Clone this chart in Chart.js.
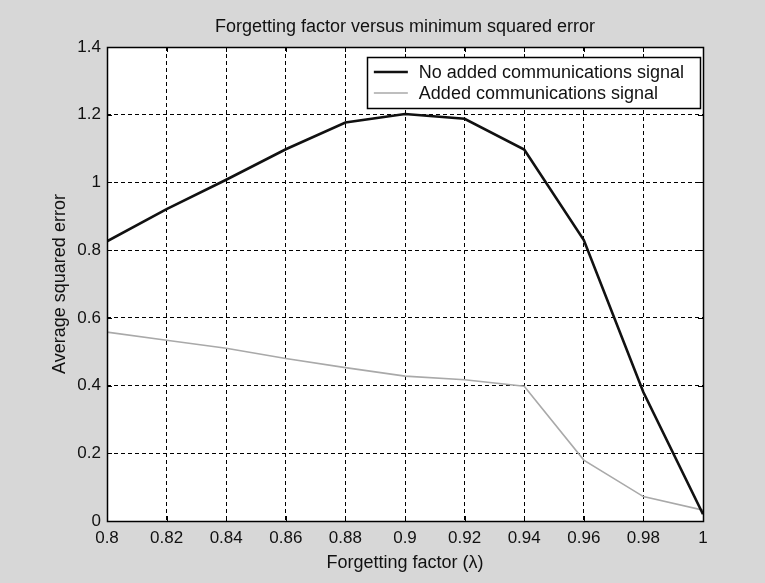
<!DOCTYPE html>
<html>
<head>
<meta charset="utf-8">
<script src="https://cdn.jsdelivr.net/npm/chart.js@4.4.0/dist/chart.umd.min.js"></script>
<style>
  html, body { margin: 0; padding: 0; background: #d7d7d7; }
  #wrap { width: 765px; height: 583px; position: relative; }
</style>
</head>
<body>
<div id="wrap"><canvas id="c" width="765" height="583"></canvas></div>
<script>
// ---- Data ----
const lambdaValues = [0.80, 0.82, 0.84, 0.86, 0.88, 0.90, 0.92, 0.94, 0.96, 0.98, 1.00];
const noAddedSignal = [0.826, 0.921, 1.008, 1.098, 1.177, 1.202, 1.188, 1.097, 0.830, 0.380, 0.020];
const addedSignal   = [0.558, 0.534, 0.510, 0.480, 0.453, 0.428, 0.417, 0.398, 0.180, 0.072, 0.032];
const seriesLabels = ['No added communications signal', 'Added communications signal'];
const xTickValues = [0.8, 0.82, 0.84, 0.86, 0.88, 0.9, 0.92, 0.94, 0.96, 0.98, 1];
const xTickLabels = ['0.8', '0.82', '0.84', '0.86', '0.88', '0.9', '0.92', '0.94', '0.96', '0.98', '1'];
const yTickValues = [0, 0.2, 0.4, 0.6, 0.8, 1, 1.2, 1.4];
const yTickLabels = ['0', '0.2', '0.4', '0.6', '0.8', '1', '1.2', '1.4'];
const titleText = 'Forgetting factor versus minimum squared error';
const xTitle = 'Forgetting factor (\u03bb)';
const yTitle = 'Average squared error';

const FONT = '"Liberation Sans", Arial, Helvetica, sans-serif';
const FS = 17;   // tick labels
const FT = 18;   // titles and legend

function pts(ys) { return lambdaValues.map((x, i) => ({ x: x, y: ys[i] })); }

const bgPlugin = {
  id: 'bg',
  beforeDraw(chart) {
    const { ctx, chartArea: a } = chart;
    ctx.save();
    ctx.fillStyle = '#d7d7d7';
    ctx.fillRect(0, 0, chart.width, chart.height);
    ctx.fillStyle = '#ffffff';
    ctx.fillRect(a.left, a.top, a.right - a.left, a.bottom - a.top);
    ctx.restore();
  }
};

const framePlugin = {
  id: 'frame',
  afterDatasetsDraw(chart) {
    const { ctx, chartArea: a, scales } = chart;
    ctx.save();
    ctx.strokeStyle = '#000';
    ctx.lineWidth = 1;
    ctx.setLineDash([]);
    const L = 5;
    ctx.beginPath();
    scales.x.ticks.forEach(t => {
      const px = Math.round(scales.x.getPixelForValue(t.value)) + 0.5;
      ctx.moveTo(px, a.bottom); ctx.lineTo(px, a.bottom - L);
      ctx.moveTo(px, a.top); ctx.lineTo(px, a.top + L);
    });
    scales.y.ticks.forEach(t => {
      const py = Math.round(scales.y.getPixelForValue(t.value)) + 0.5;
      ctx.moveTo(a.left, py); ctx.lineTo(a.left + L, py);
      ctx.moveTo(a.right, py); ctx.lineTo(a.right - L, py);
    });
    ctx.stroke();
    ctx.lineWidth = 1.5;
    ctx.strokeRect(Math.round(a.left) + 0.5, Math.round(a.top) + 0.5,
                   Math.round(a.right - a.left), Math.round(a.bottom - a.top));
    ctx.restore();
  },
  afterDraw(chart) {
    // legend drawn inside the plot area (upper right)
    const { ctx, chartArea: a } = chart;
    const ds = chart.data.datasets;
    ctx.save();
    ctx.font = FT + 'px ' + FONT;
    const tw = Math.max(...ds.map(d => ctx.measureText(d.label).width));
    const padL = 7, sample = 34, gap = 11, padR = 16;
    const w = padL + sample + gap + tw + padR;
    const h = 51;
    const right = a.right - 3;
    const left = right - w;
    const top = a.top + 10;
    ctx.fillStyle = '#fff';
    ctx.fillRect(left, top, w, h);
    ctx.strokeStyle = '#000';
    ctx.lineWidth = 1.5;
    ctx.strokeRect(Math.round(left) + 0.5, top + 0.5, Math.round(w), h);
    ds.forEach((d, i) => {
      const cy = top + 15 + i * 21;
      ctx.strokeStyle = d.borderColor;
      ctx.lineWidth = d.borderWidth;
      ctx.beginPath();
      ctx.moveTo(left + padL, cy);
      ctx.lineTo(left + padL + sample, cy);
      ctx.stroke();
      ctx.fillStyle = '#111';
      ctx.textBaseline = 'middle';
      ctx.textAlign = 'left';
      ctx.fillText(d.label, left + padL + sample + gap, cy + 1);
    });
    ctx.restore();
  }
};

new Chart(document.getElementById('c'), {
  type: 'scatter',
  data: {
    datasets: [
      { label: seriesLabels[0], data: pts(noAddedSignal), showLine: true, borderColor: '#111111',
        borderWidth: 2.6, pointRadius: 0, tension: 0, fill: false },
      { label: seriesLabels[1], data: pts(addedSignal), showLine: true, borderColor: '#a9a9a9',
        borderWidth: 1.6, pointRadius: 0, tension: 0, fill: false }
    ]
  },
  options: {
    responsive: false,
    animation: false,
    devicePixelRatio: 1,
    layout: { padding: { left: 0, right: 62, top: 0, bottom: 0 } },
    plugins: {
      legend: { display: false },
      tooltip: { enabled: false },
      title: {
        display: true, text: titleText, fullSize: false,
        color: '#111', font: { family: FONT, size: FT, weight: 'normal' },
        padding: { top: 16, bottom: 9.4 }
      }
    },
    scales: {
      x: {
        type: 'linear', min: 0.8, max: 1,
        afterBuildTicks: s => { s.ticks = xTickValues.map(v => ({ value: v })); },
        afterFit: s => { s.height = 62; },
        ticks: {
          color: '#111', font: { family: FONT, size: FS }, padding: 7, maxRotation: 0, autoSkip: false,
          callback: (v) => { const i = xTickValues.findIndex(t => Math.abs(t - v) < 1e-9); return i >= 0 ? xTickLabels[i] : ''; }
        },
        grid: { color: '#000', lineWidth: 1, drawTicks: false },
        border: { display: false, dash: [4, 3] },
        title: { display: true, text: xTitle, color: '#111', font: { family: FONT, size: FT }, padding: { top: 0, bottom: 9 } }
      },
      y: {
        type: 'linear', min: 0, max: 1.4,
        afterBuildTicks: s => { s.ticks = yTickValues.map(v => ({ value: v })); },
        afterFit: s => { s.width = 107; },
        ticks: {
          color: '#111', font: { family: FONT, size: FS }, padding: 6, autoSkip: false,
          callback: (v) => { const i = yTickValues.findIndex(t => Math.abs(t - v) < 1e-9); return i >= 0 ? yTickLabels[i] : ''; }
        },
        grid: { color: '#000', lineWidth: 1, drawTicks: false },
        border: { display: false, dash: [4, 3] },
        title: { display: true, text: yTitle, color: '#111', font: { family: FONT, size: FT }, padding: { top: 49, bottom: 0 } }
      }
    }
  },
  plugins: [bgPlugin, framePlugin]
});
</script>
</body>
</html>
